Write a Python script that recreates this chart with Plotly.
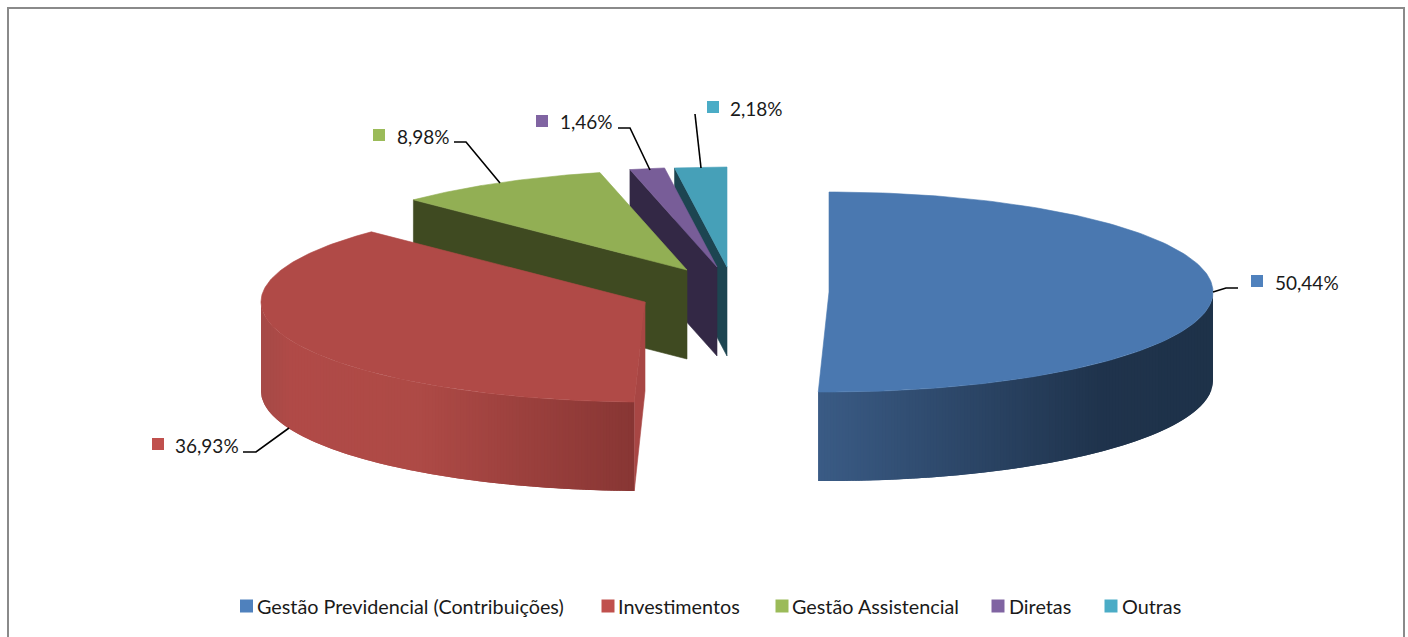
import numpy as np
import plotly.graph_objects as go

# ---- data ----
categories = ["Gestão Previdencial (Contribuições)", "Investimentos", "Gestão Assistencial", "Diretas", "Outras"]
values = [50.44, 36.93, 8.98, 1.46, 2.18]
value_labels = ["50,44%", "36,93%", "8,98%", "1,46%", "2,18%"]
colors = ["#4F81BD", "#C0504D", "#9BBB59", "#8064A2", "#4BACC6"]
top_colors = ["#4A78B0", "#B04A47", "#92AF54", "#785D98", "#46A0B8"]
wall_colors = ["#1E3249", "#A84644", "#3F4A21", "#332845", "#1D4551"]

# ---- pie projection (pixel-space axes) ----
RX, RY, DEPTH = 384, 100, 89
apex = [(829, 292), (645, 302), (687, 270), (717, 267), (727, 267)]
label_pos = [(1275, 282), (175, 445), (397, 136), (560, 121), (730, 108)]
key_pos = [(1257, 281), (158, 444), (379, 135), (542, 121), (713, 107)]
legend_key_x = [246.5, 608, 782, 998, 1111]
legend_text_x = [257, 618, 792, 1009, 1122]
LEGEND_Y = 606
leader = [[(1213, 292), (1226, 288), (1238, 288)],
          [(289, 428), (256, 452), (243, 452)],
          [(500, 183), (466, 142), (454, 142)],
          [(650, 170), (630, 128), (618, 128)],
          [(701, 168), (695, 114)]]


def ell(a, c):
    a = np.radians(a)
    return c[0] + RX * np.sin(a), c[1] - RY * np.cos(a)


def blend(c1, c2, t):
    a = [int(c1[i:i + 2], 16) for i in (1, 3, 5)]
    b = [int(c2[i:i + 2], 16) for i in (1, 3, 5)]
    return "rgb(%d,%d,%d)" % tuple(round(a[i] + (b[i] - a[i]) * t) for i in range(3))


def poly(fig, xs, ys, color, lw=0.6):
    fig.add_trace(go.Scatter(x=list(xs), y=list(ys), mode="lines", fill="toself",
                             fillcolor=color, line=dict(color=color, width=lw),
                             hoverinfo="skip", showlegend=False))


cum = np.cumsum([0] + values) / sum(values) * 360
fig = go.Figure()


def face(i, ang):
    c = apex[i]
    ox, oy = ell(ang, c)
    poly(fig, [c[0], ox, ox, c[0], c[0]], [c[1], oy, oy + DEPTH, c[1] + DEPTH, c[1]], wall_colors[i])


def top(i):
    c = apex[i]
    t = np.linspace(cum[i], cum[i + 1], 160)
    ex, ey = ell(t, c)
    poly(fig, [c[0], *ex, c[0]], [c[1], *ey, c[1]], top_colors[i])


def curved_wall(i, stops, bands):
    # bands are equally wide on screen; each is overlapped by the next, so no seams show
    c = apex[i]
    lo, hi = max(cum[i], 90), min(cum[i + 1], 270)
    edges = 180 - np.degrees(np.arcsin(np.linspace(np.sin(np.radians(lo)), np.sin(np.radians(hi)), bands + 1)))
    xs_all = ell(edges, c)[0]
    xmin, xmax = xs_all.min(), xs_all.max()
    for k in range(bands):
        a0, a1 = edges[k], edges[min(k + 2, bands)]
        ex, ey = ell(np.linspace(a0, a1, 10), c)
        frac = ((xs_all[k] + xs_all[k + 1]) / 2 - xmin) / (xmax - xmin)
        col = stops[-1][1]
        for (f0, c0), (f1, c1) in zip(stops[:-1], stops[1:]):
            if f0 <= frac <= f1:
                col = blend(c0, c1, (frac - f0) / (f1 - f0))
        poly(fig, [*ex, *ex[::-1], ex[0]], [*ey, *(ey[::-1] + DEPTH), ey[0]], col, lw=0)


# back slices first
for i in (4, 3, 2):
    face(i, cum[i])
    top(i)

# Investimentos: end-cut face, curved wall, top
c = apex[1]
ox, oy = ell(cum[1], c)
poly(fig, [c[0], ox, ox, c[0], c[0]], [c[1], oy, oy + DEPTH, c[1] + DEPTH, c[1]], "#A84644")
curved_wall(1, [(0, "#A54A47"), (0.08, "#B04A47"), (0.42, "#AE4A46"), (1, "#883634")], 120)
top(1)

# Gestão Previdencial: curved wall, top
curved_wall(0, [(0, "#3A5B85"), (0.72, "#1F334C"), (1, "#1E3249")], 130)
top(0)

# leader lines
for pts in leader:
    fig.add_trace(go.Scatter(x=[p[0] for p in pts], y=[p[1] for p in pts], mode="lines",
                             line=dict(color="#000000", width=1.6), hoverinfo="skip", showlegend=False))

# data-label keys and texts
for k, lab, lp, col in zip(key_pos, value_labels, label_pos, colors):
    fig.add_trace(go.Scatter(x=[k[0]], y=[k[1]], mode="markers",
                             marker=dict(symbol="square", size=12, color=col, line=dict(width=0)),
                             hoverinfo="skip", showlegend=False))
    fig.add_annotation(x=lp[0], y=lp[1], text=lab, showarrow=False, xanchor="left", yanchor="middle",
                       xshift=-2, font=dict(family="Lato", size=19, color="#1a1a1a"))

# legend row
for name, col, kx, tx in zip(categories, colors, legend_key_x, legend_text_x):
    fig.add_trace(go.Scatter(x=[kx], y=[LEGEND_Y], mode="markers", name=name,
                             marker=dict(symbol="square", size=13, color=col, line=dict(width=0)),
                             showlegend=False))
    fig.add_annotation(x=tx, y=LEGEND_Y, text=name, showarrow=False, xanchor="left", yanchor="middle",
                       xshift=-2, font=dict(family="Lato", size=19.8, color="#1a1a1a"))

fig.update_layout(
    width=1408, height=637, margin=dict(l=0, r=0, t=0, b=0),
    paper_bgcolor="white", plot_bgcolor="white", showlegend=False,
    xaxis=dict(range=[0, 1408], visible=False, fixedrange=True),
    yaxis=dict(range=[637, 0], visible=False, fixedrange=True),
    shapes=[dict(type="rect", xref="x", yref="y", x0=8, x1=1404, y0=8, y1=660,
                 line=dict(color="#8a8a8a", width=2), fillcolor="rgba(0,0,0,0)")],
)
fig.write_html("out.html", config={"displayModeBar": False},
               post_script="document.body.style.margin='0';document.body.style.overflow='hidden';")
